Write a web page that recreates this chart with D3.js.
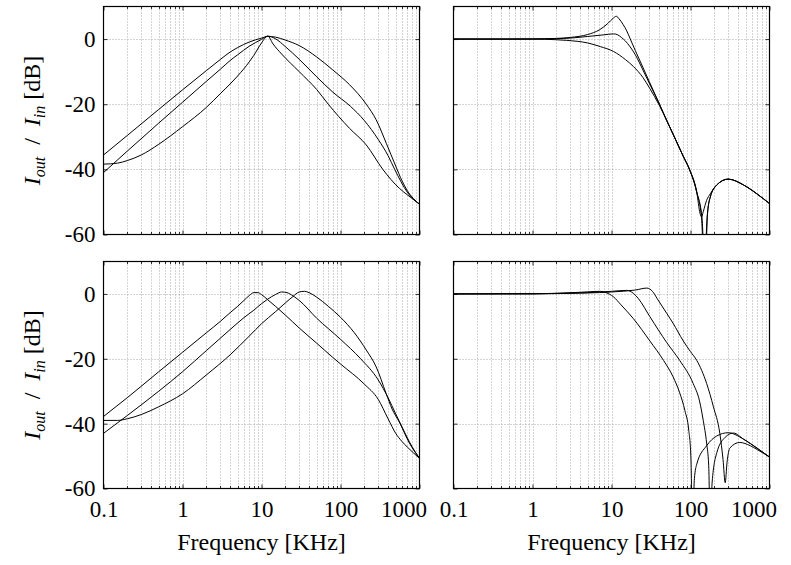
<!DOCTYPE html>
<html><head><meta charset="utf-8">
<script src="https://cdn.jsdelivr.net/npm/d3@7"></script>
<style>
body{margin:0;background:#fff}svg{display:block}
svg text{font-family:"Liberation Serif","Times New Roman","DejaVu Serif",serif !important;}
</style>
</head><body>
<svg id="c" width="791" height="565"></svg>
<script>
// ---- axis definitions ----
const xDomain = [0.1, 1000];
const yDomain = [-60, 10];
const xTicks = [0.1, 1, 10, 100, 1000];
const xTickLabels = ["0.1", "1", "10", "100", "1000"];
const yTicks = [0, -20, -40, -60];
const yTickLabels = ["0", "-20", "-40", "-60"];
const xTitle = "Frequency [KHz]";

// ---- series: [frequency kHz, dB] ----
// top-left (band-pass, same centre, different Q)
const tlA = [[0.1,-35.6],[0.2,-29.6],[0.5,-21.6],[1,-15.6],[2,-9.7],[3,-6.3],[4,-4],[5,-2.6],[7,-0.9],[10,0.3],[12,0.8],[15,0.6],[20,-0.3],[30,-2],[50,-5.5],[80,-9.5],[130,-14],[212,-20],[283,-24.8],[380,-32],[500,-39],[600,-43.5],[700,-46.5],[1000,-50.7]];
const tlB = [[0.1,-41],[0.2,-34.4],[0.5,-25.8],[1,-19.4],[2,-13],[3,-9.3],[4,-6.6],[5,-4.8],[7,-2.2],[10,-0.1],[12,0.9],[15,0.1],[20,-2.3],[30,-6.2],[50,-11.6],[80,-16.3],[133,-20.6],[200,-25],[300,-30.8],[400,-35.8],[485,-40],[700,-47],[1000,-50.7]];
const tlC = [[0.1,-38.4],[0.15,-38.1],[0.2,-37.3],[0.3,-35.6],[0.5,-32.3],[1,-26.9],[2,-21],[3,-16.8],[4,-13.8],[5,-11.3],[7,-7],[8,-5],[10,-1.2],[12,0.9],[14,-1.5],[18,-4.6],[30,-10],[50,-15.5],[70,-20],[130,-27.4],[212,-32.5],[343,-40],[555,-45.8],[700,-47.8],[1000,-50.7]];
// top-right (low-pass, same cut-off, different damping)
const trP = [[0.1,0],[0.5,0],[1,0.05],[2,0.2],[3,0.5],[5,1.4],[7,2.8],[9,4.8],[10.5,6.4],[11.5,7],[12.5,6.2],[14,4.5],[15.6,2.5],[17.3,0],[20,-3.5],[25,-8.7],[30,-13],[40.5,-20],[50,-25],[61,-29.5],[81,-36],[97,-40],[120,-47],[138,-55],[150,-72],[162,-55],[178,-48.5],[215,-44.8],[300,-43],[470,-44.8],[700,-47.6],[1000,-50.5]];
const trM = [[0.1,0],[1,0],[2,0.1],[3,0.3],[5,0.8],[8,1.3],[10.6,1.6],[12,1.3],[13.5,0.4],[15,-0.6],[17,-2.2],[20,-4.8],[25,-9.5],[30,-13.5],[40.5,-20],[50,-25],[61,-29.5],[81,-36],[97,-40],[120,-47],[140,-55],[152,-72],[165,-53],[178,-48.5],[215,-44.8],[300,-43],[470,-44.8],[700,-47.6],[1000,-50.5]];
const trL = [[0.1,0],[1,0],[2,-0.2],[2.7,-0.4],[5,-1.2],[7.2,-2.3],[10.6,-3.8],[15,-6.3],[18.9,-8.4],[25,-11.8],[30.6,-15.2],[40,-20.2],[50,-25],[61,-29.5],[81,-36],[97,-40],[120,-47],[132,-53.5],[138,-54.6],[145,-53],[160,-49.5],[178,-47.5],[215,-44.8],[300,-43],[470,-44.8],[700,-47.6],[1000,-50.5]];
// bottom-left (band-pass, shifted centres)
const blL = [[0.1,-37.8],[0.2,-32],[0.5,-24],[1,-18],[2,-12],[3,-8.5],[4,-5.8],[5,-3.8],[6,-2],[7,-0.5],[8,0.4],[9,0.4],[10,-0.2],[12,-1.8],[15,-3.8],[20,-6.5],[30,-10.5],[50,-15.2],[80,-19.6],[100,-21.6],[200,-27.8],[300,-32.5],[400,-38.5],[500,-43],[600,-45.5],[700,-47.2],[1000,-50.7]];
const blM = [[0.1,-43],[0.2,-37.5],[0.5,-30],[1,-24],[2,-17.5],[4,-11],[6,-7.3],[8,-5],[10,-3],[12,-1.6],[15,-0.2],[18,0.6],[21,0.4],[25,-0.6],[30,-2],[50,-7.5],[100,-14],[180,-20],[300,-26.5],[400,-32],[500,-37],[600,-41],[800,-47],[1000,-50.7]];
const blR = [[0.1,-39],[0.15,-39],[0.2,-38.5],[0.3,-37.2],[0.5,-34.8],[1,-30.8],[2,-25],[4,-18.8],[7,-13],[10,-9.2],[15,-5.5],[20,-2.8],[25,-0.8],[30,0.6],[35,0.8],[40,0.4],[50,-1],[70,-3.8],[100,-7.2],[150,-12],[212,-17.3],[283,-22.5],[378,-30.7],[450,-35.5],[555,-39.5],[745,-46],[1000,-50.7]];
// bottom-right (low-pass, shifted cut-offs)
const brA = [[0.1,0],[1,0.05],[2,0.2],[4,0.5],[6,0.75],[7.2,0.8],[8.5,0.4],[10.6,-0.9],[13,-3.2],[18.9,-7.6],[30.6,-14.5],[45.6,-20.5],[60,-25.5],[73,-30.5],[85,-36],[95,-42],[101,-50],[106,-72],[112,-57],[120,-52.5],[160,-46.8],[215,-43.8],[300,-42.8],[470,-44.8],[700,-47.6],[1000,-50.3]];
const brB = [[0.1,0],[1,0.05],[2,0.15],[5,0.4],[10,0.8],[15.6,1.1],[18.9,0.2],[22,-1.5],[30.6,-7],[50,-15],[73,-20.5],[108,-27.6],[130,-33],[145,-39],[160,-46],[170,-53],[178,-72],[188,-58],[215,-49],[275,-44.2],[350,-42.9],[470,-44.8],[700,-47.6],[1000,-50.3]];
const brC = [[0.1,0],[1,0.05],[2,0.1],[5,0.3],[10,0.6],[20,1.2],[28,1.8],[33,0.8],[38,-1.5],[50,-6],[60,-9],[81,-14.5],[100,-17.8],[120,-20.5],[160,-27.6],[195,-34.8],[235,-43],[258,-51],[275,-58.2],[290,-52],[315,-47.5],[420,-45.8],[570,-46.8],[700,-48],[1000,-50.3]];

// ---- layout ----
const FONT = '"Liberation Serif","Times New Roman","DejaVu Serif",serif';
const panels = [
  {x0:103.5, x1:419.5, y0:6.5,   y1:234.5, curves:[tlA,tlB,tlC], yLab:true,  xLab:false},
  {x0:453.5, x1:769.5, y0:6.5,   y1:234.5, curves:[trP,trM,trL], yLab:false, xLab:false},
  {x0:103.5, x1:419.5, y0:261.5, y1:488.5, curves:[blL,blM,blR], yLab:true,  xLab:true},
  {x0:453.5, x1:769.5, y0:261.5, y1:488.5, curves:[brA,brB,brC], yLab:false, xLab:true}
];

const svg = d3.select("#c");

panels.forEach((p, pi) => {
  const x = d3.scaleLog().domain(xDomain).range([p.x0, p.x1]);
  const y = d3.scaleLinear().domain(yDomain).range([p.y1, p.y0]);
  const g = svg.append("g");

  // grid
  const allX = x.ticks();
  g.selectAll(".gx").data(allX.filter(d => d > xDomain[0] * 1.001 && d < xDomain[1] * 0.999))
    .join("line")
    .attr("x1", d => Math.round(x(d)) + 0.5).attr("x2", d => Math.round(x(d)) + 0.5)
    .attr("y1", p.y0).attr("y2", p.y1)
    .attr("stroke", "#a8a8a8").attr("stroke-width", 1).attr("stroke-dasharray", "1,2");
  g.selectAll(".gy").data(yTicks.filter(d => d > yDomain[0] && d < yDomain[1]))
    .join("line")
    .attr("x1", p.x0).attr("x2", p.x1)
    .attr("y1", d => Math.round(y(d)) + 0.5).attr("y2", d => Math.round(y(d)) + 0.5)
    .attr("stroke", "#a8a8a8").attr("stroke-width", 1).attr("stroke-dasharray", "1,2");

  // minor ticks (inward) top & bottom
  const minor = allX.filter(d => !xTicks.includes(d));
  [p.y1, p.y0].forEach((yy, k) => {
    g.selectAll(null).data(minor).join("line")
      .attr("x1", d => Math.round(x(d)) + 0.5).attr("x2", d => Math.round(x(d)) + 0.5)
      .attr("y1", yy).attr("y2", k === 0 ? yy - 2.5 : yy + 2.5)
      .attr("stroke", "#000").attr("stroke-width", 0.8);
  });

  // curves
  const clipId = "clip" + pi;
  svg.append("clipPath").attr("id", clipId).append("rect")
    .attr("x", p.x0).attr("y", p.y0).attr("width", p.x1 - p.x0).attr("height", p.y1 - p.y0);
  const line = d3.line().x(d => x(d[0])).y(d => y(d[1])).curve(d3.curveMonotoneX);
  g.append("g").attr("clip-path", `url(#${clipId})`)
    .selectAll("path").data(p.curves).join("path")
    .attr("d", line).attr("fill", "none").attr("stroke", "#000").attr("stroke-width", 1);

  // axes (inward ticks)
  const xb = d3.axisBottom(x).tickValues(xTicks).tickSizeInner(-4).tickSizeOuter(0).tickPadding(12)
    .tickFormat((d, i) => p.xLab ? xTickLabels[i] : "");
  const ax = g.append("g").attr("transform", `translate(0,${p.y1})`).call(xb);
  const xt = d3.axisTop(x).tickValues(xTicks).tickSizeInner(-4).tickSizeOuter(0).tickFormat("");
  const ax2 = g.append("g").attr("transform", `translate(0,${p.y0})`).call(xt);
  const yl = d3.axisLeft(y).tickValues(yTicks).tickSizeInner(-4).tickSizeOuter(0).tickPadding(8)
    .tickFormat((d, i) => p.yLab ? yTickLabels[i] : "");
  const ay = g.append("g").attr("transform", `translate(${p.x0},0)`).call(yl);
  const yr = d3.axisRight(y).tickValues(yTicks).tickSizeInner(-4).tickSizeOuter(0).tickFormat("");
  const ay2 = g.append("g").attr("transform", `translate(${p.x1},0)`).call(yr);
  [ax, ax2, ay, ay2].forEach(a => {
    a.attr("font-family", FONT).attr("font-size", 23);
    a.select(".domain").remove();
    a.selectAll(".tick line").attr("stroke", "#000").attr("stroke-width", 0.8);
    a.selectAll("text").style("font-family", FONT).style("font-size", "23px").attr("fill", "#000");
  });
  // last x label pulled inward as in the original
  ax.selectAll(".tick text").filter(d => d === xTicks[xTicks.length - 1]).attr("x", -16);

  // frame
  g.append("rect").attr("x", p.x0).attr("y", p.y0)
    .attr("width", p.x1 - p.x0).attr("height", p.y1 - p.y0)
    .attr("fill", "none").attr("stroke", "#000").attr("stroke-width", 1.2);

  // y title
  if (p.yLab) {
    const cy = (p.y0 + p.y1) / 2;
    const t = svg.append("text").attr("transform", `translate(40,${cy}) rotate(-90)`)
      .attr("text-anchor", "middle").style("font-family", FONT).style("font-size", "24px").attr("fill", "#000");
    t.append("tspan").attr("font-style", "italic").text("I");
    t.append("tspan").attr("font-style", "italic").style("font-size", "16px").attr("dy", 5).text("out");
    t.append("tspan").attr("dy", -5).text("\u2002/\u2002");
    t.append("tspan").attr("font-style", "italic").text("I");
    t.append("tspan").attr("font-style", "italic").style("font-size", "16px").attr("dy", 5).text("in");
    t.append("tspan").attr("dy", -5).text(" [dB]");
  }
  // x title
  if (p.xLab) {
    svg.append("text").attr("x", (p.x0 + p.x1) / 2).attr("y", 550)
      .attr("text-anchor", "middle").style("font-family", FONT).style("font-size", "24px").attr("fill", "#000")
      .text(xTitle);
  }
});
</script>
</body></html>
